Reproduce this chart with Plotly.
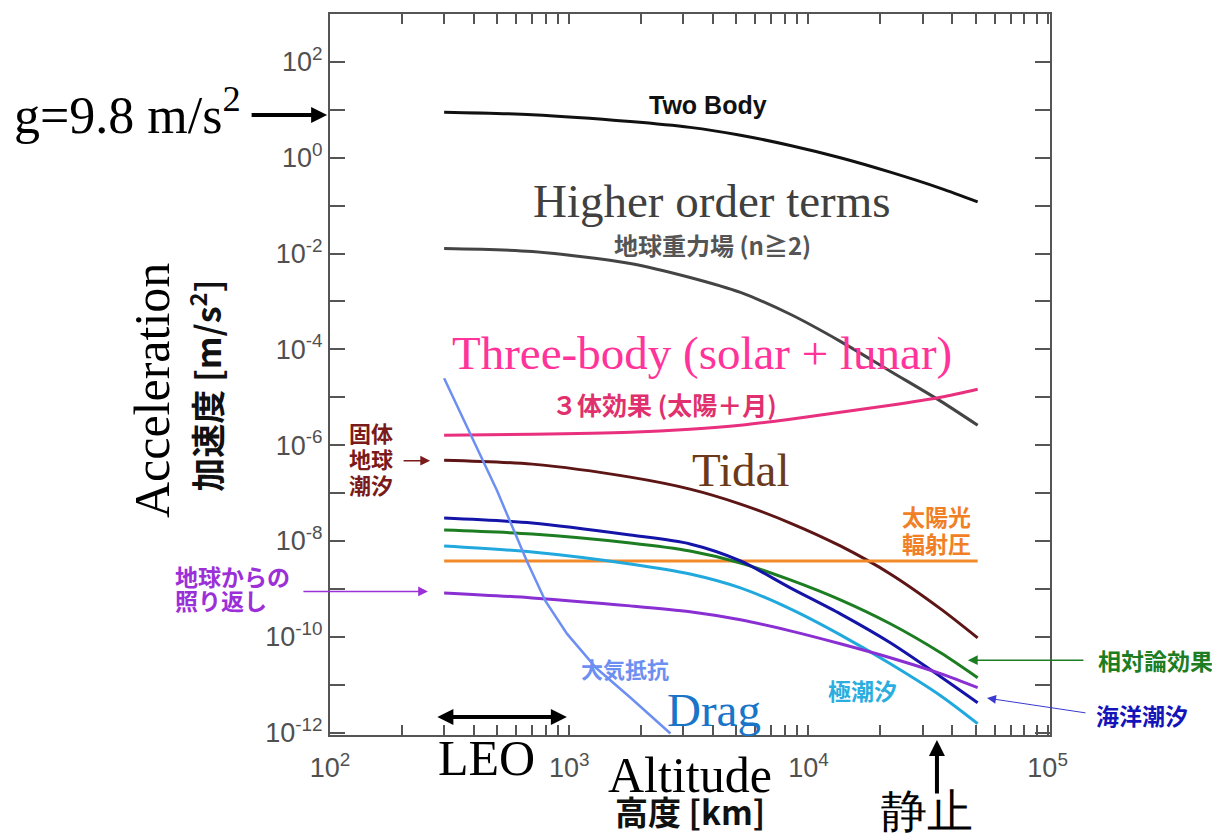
import plotly.graph_objects as go

# ---------------- data ----------------
# common altitude grid [km] used for most curves
alt_grid = [300, 700, 1800, 3200, 5200, 8400, 13600, 22000, 35700, 51000]

two_body_acc = [8.9, 7.9, 5.7, 4.3, 2.95, 1.8, 1.0, 0.5, 0.23, 0.12]
higher_acc = [0.0127, 0.0110, 0.0062, 0.00316, 0.00154, 5.4e-4, 1.47e-4, 3.5e-5, 8.3e-6, 2.6e-6]
three_acc = [1.62e-6, 1.69e-6, 1.87e-6, 2.16e-6, 2.61e-6, 3.48e-6, 4.87e-6, 6.8e-6, 1.0e-5, 1.47e-5]
tidal_acc = [4.87e-7, 4.02e-7, 2.15e-7, 1.21e-7, 5.9e-8, 2.37e-8, 7.87e-9, 2.05e-9, 3.83e-10, 9.5e-11]
ocean_acc = [3.01e-8, 2.37e-8, 1.33e-8, 8.66e-9, 3.83e-9, 1.05e-9, 3.01e-10, 7.5e-11, 1.47e-11, 4.22e-12]
relat_acc = [1.69e-8, 1.40e-8, 9.1e-9, 6.19e-9, 3.48e-9, 1.54e-9, 5.9e-10, 1.87e-10, 4.64e-11, 1.40e-11]
pole_acc = [7.87e-9, 5.9e-9, 3.32e-9, 2.05e-9, 1.05e-9, 3.83e-10, 1.10e-10, 2.74e-11, 5.9e-12, 1.54e-12]
albedo_acc = [8.25e-10, 6.49e-10, 4.42e-10, 3.32e-10, 2.26e-10, 1.33e-10, 7.15e-11, 3.65e-11, 1.70e-11, 8.66e-12]

srp_alt = [300, 51000]
srp_acc = [3.8e-9, 3.8e-9]

drag_alt = [300, 340, 385, 435, 500, 565, 665, 795, 980, 1300, 1800, 2650]
drag_acc = [2.5e-5, 6.5e-6, 1.7e-6, 4.7e-7, 1.1e-7, 2.6e-8, 3.8e-9, 5.6e-10, 1.15e-10, 2.2e-11, 5.4e-12, 9.6e-13]

y_tick_exps = [2, 0, -2, -4, -6, -8, -10, -12]
x_tick_exps = [2, 3, 4, 5]

# ---------------- figure ----------------
fig = go.Figure()

def add_line(xs, ys, color, width=3, shape="spline"):
    fig.add_trace(go.Scatter(x=xs, y=ys, mode="lines",
                             line=dict(color=color, width=width, shape=shape, smoothing=0.8),
                             showlegend=False, hoverinfo="skip"))

add_line(alt_grid, two_body_acc, "#111111", 3)
add_line(alt_grid, higher_acc, "#444444", 3)
add_line(alt_grid, three_acc, "#e8307e", 3)
add_line(alt_grid, tidal_acc, "#5e1515", 3)
add_line(srp_alt, srp_acc, "#f28a2a", 3, "linear")
add_line(alt_grid, relat_acc, "#1d7d22", 3)
add_line(alt_grid, pole_acc, "#21a9de", 3)
add_line(alt_grid, ocean_acc, "#1414a8", 3)
add_line(alt_grid, albedo_acc, "#8a2fd2", 3)
add_line(drag_alt, drag_acc, "#6d8ff2", 2.5, "linear")

# ticks
y_vals, y_text = [], []
for e in range(2, -13, -1):
    y_vals.append(10.0 ** e)
    y_text.append(f"10<sup>{e}</sup>" if e in y_tick_exps else "")
x_vals, x_text = [], []
for e in range(2, 6):
    for m in range(1, 10):
        if e == 5 and m > 1:
            break
        x_vals.append(m * 10.0 ** e)
        x_text.append(f"10<sup>{e}</sup>" if e in x_tick_exps and m == 1 else "")

tick_font = dict(family="Liberation Sans, Arial", size=27, color="#505050")

fig.update_xaxes(type="log", range=[2, 5.01], tickvals=x_vals, ticktext=x_text,
                 ticks="inside", ticklen=10, tickwidth=1.5, tickcolor="#555555",
                 showline=True, linecolor="#555555", linewidth=2, mirror="ticks",
                 showgrid=False, zeroline=False, tickfont=tick_font,
                 ticklabelstandoff=8)
fig.update_yaxes(type="log", range=[-12.05, 3.0], tickvals=y_vals, ticktext=y_text,
                 ticks="inside", ticklen=15, tickwidth=1.5, tickcolor="#555555",
                 showline=True, linecolor="#555555", linewidth=2, mirror="ticks",
                 showgrid=False, zeroline=False, tickfont=tick_font)

SERIF = "Liberation Serif, Times New Roman, serif"
JP = "Noto Sans CJK JP"
SANS = "Liberation Sans, Arial"

def txt(x, y, text, size, color, family, **kw):
    d = dict(x=x, y=y, xref="paper", yref="paper", text=text, showarrow=False,
             font=dict(size=size, color=color, family=family),
             xanchor="center", yanchor="middle")
    d.update(kw)
    fig.add_annotation(**d)

def arrow(x, y, ax, ay, color, width, head=2, size=1.0, side="end"):
    fig.add_annotation(x=x, y=y, xref="paper", yref="paper", ax=ax, ay=ay,
                       axref="pixel", ayref="pixel", text="", showarrow=True,
                       arrowhead=head, arrowsize=size, arrowwidth=width,
                       arrowcolor=color, arrowside=side)

# labels inside plot
txt(0.525, 0.874, "<b>Two Body</b>", 25, "#111111", SANS)
txt(0.531, 0.740, "Higher order terms", 47, "#404040", SERIF)
txt(0.531, 0.680, "<b>地球重力場 (n≧2)</b>", 24, "#555555", JP)
txt(0.517, 0.530, "Three-body (solar + lunar)", 47, "#ff3399", SERIF)
txt(0.465, 0.459, "<b>３体効果 (太陽＋月)</b>", 25, "#e0306e", JP)
txt(0.571, 0.367, "Tidal", 47, "#6b3a1a", SERIF)
txt(0.893, 0.3043, "<b>太陽光</b>", 23, "#f07f25", JP, xanchor="right")
txt(0.893, 0.2669, "<b>輻射圧</b>", 23, "#f07f25", JP, xanchor="right")
txt(0.0569, 0.4205, "<b>固体</b>", 22, "#7a1a1a", JP)
txt(0.0569, 0.3845, "<b>地球</b>", 22, "#7a1a1a", JP)
txt(0.0569, 0.3485, "<b>潮汐</b>", 22, "#7a1a1a", JP)
txt(-0.218, 0.2199, "<b>地球からの</b>", 23, "#9b30d8", JP, xanchor="left")
txt(-0.218, 0.1867, "<b>照り返し</b>", 23, "#9b30d8", JP, xanchor="left")
txt(0.410, 0.0927, "<b>大気抵抗</b>", 22, "#6d8ff2", JP)
txt(0.533, 0.0346, "Drag", 47, "#1a75c8", SERIF)
txt(0.740, 0.0622, "<b>極潮汐</b>", 23, "#2aaee0", JP)
txt(1.146, 0.1037, "<b>相対論効果</b>", 23, "#1d7d22", JP)
txt(1.128, 0.0277, "<b>海洋潮汐</b>", 23, "#1414b8", JP)

# outside labels
txt(-0.281, 0.8645, "g=9.8 m/s<sup>2</sup>", 52, "#000000", SERIF)
txt(-0.2472, 0.477, "Acceleration", 50, "#000000", SERIF, textangle=-90)
txt(-0.174, 0.484, "<b>加速度 [m/s<sup>2</sup>]</b>", 34, "#111111", JP, textangle=-90)
txt(0.218, -0.0318, "LEO", 50, "#000000", SERIF)
txt(0.5, -0.055, "Altitude", 50, "#000000", SERIF)
txt(0.5, -0.106, "<b>高度 [km]</b>", 33, "#111111", JP)
txt(0.829, -0.106, "静止", 46, "#000000", SERIF)

# arrows
arrow(-0.004, 0.860, -77, 0, "#000000", 4, head=2, size=0.8)
arrow(0.139, 0.3804, -28, 0, "#7a1a1a", 1.5, head=2, size=1.3)
arrow(0.136, 0.1992, -126, 0, "#9b30d8", 1.5, head=2, size=1.3)
arrow(0.886, 0.1037, 117, 0, "#1d7d22", 1.5, head=2, size=1.3)
arrow(0.9125, 0.0512, 100, 15, "#3a3ad0", 1, head=2, size=1.8)
arrow(0.329, 0.025, -131, 0, "#000000", 4, head=2, size=0.8, side="end+start")
arrow(0.843, -0.007, 0, 55, "#000000", 4, head=2, size=0.8)

# the page adds an 8px body margin; size the figure so the plot area lands where the reference has it
fig.update_layout(width=1212, height=831,
                  margin=dict(l=322, r=170, t=4, b=104),
                  paper_bgcolor="white", plot_bgcolor="white")

fig.write_html("out.html")
